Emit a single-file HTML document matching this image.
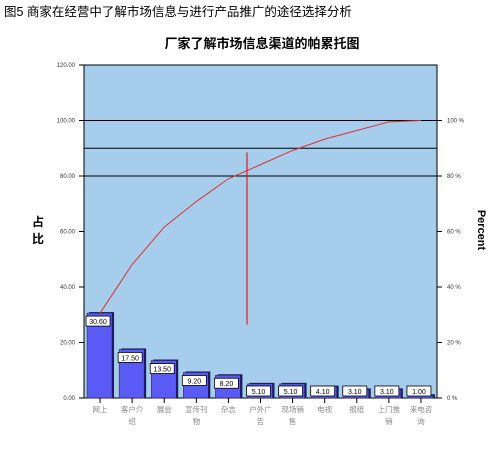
<!DOCTYPE html>
<html><head><meta charset="utf-8">
<style>
body{margin:0;background:#fff;width:499px;height:444px;overflow:hidden;font-family:"Liberation Sans","Noto Sans CJK SC",sans-serif}
</style></head>
<body>
<svg id="c" width="499" height="444" xmlns="http://www.w3.org/2000/svg">
<text x="4" y="16" font-size="12.5" fill="#000" font-family="Liberation Sans, Noto Sans CJK SC, sans-serif">图5  商家在经营中了解市场信息与进行产品推广的途径选择分析</text>
<text x="262" y="48" font-size="13" font-weight="bold" text-anchor="middle" font-family="Liberation Sans, Noto Sans CJK SC, sans-serif">厂家了解市场信息渠道的帕累托图</text>
<rect x="84" y="65" width="353" height="333" fill="#a6cdeb" stroke="#000" stroke-width="1"/>
<text x="36" y="225" font-size="12" font-weight="bold" font-family="Noto Sans CJK SC, sans-serif"><tspan x="32" y="226">占</tspan><tspan x="32" y="243">比</tspan></text>
<text transform="translate(478,230) rotate(90)" font-size="11" font-weight="bold" text-anchor="middle">Percent</text>
<g id="g"></g>
</svg>
<script>
const categories=["网上","客户介绍","展会","宣传刊物","杂志","户外广告","现场销售","电视","报纸","上门推销","来电咨询"];
const values=[30.6,17.5,13.5,9.2,8.2,5.1,5.1,4.1,3.1,3.1,1.0];
const valueLabels=["30.60","17.50","13.50","9.20","8.20","5.10","5.10","4.10","3.10","3.10","1.00"];
const leftTicks=[0,20,40,60,80,100,120];
const rightTicks=[0,20,40,60,80,100];
const ns="http://www.w3.org/2000/svg";
const g=document.getElementById('g');
const X0=84,W=353,Y0=398,H=333,YMAX=120;
const band=W/categories.length;
const y=v=>Y0-v/YMAX*H;
const xc=i=>X0+band*(i+0.5);
function mk(t,a,p){const e=document.createElementNS(ns,t);for(const k in a)e.setAttribute(k,a[k]);(p||g).appendChild(e);return e;}
// gridlines
[80,90,100].forEach(v=>{const l=mk('line',{x1:X0,x2:X0+W,y1:y(v),y2:y(v),stroke:'#000','stroke-width':1});

});
leftTicks.forEach(v=>{mk('line',{x1:X0-5,x2:X0,y1:y(v),y2:y(v),stroke:'#000'});
const t=mk('text',{x:X0-9,y:y(v)+2,'font-size':6,'text-anchor':'end',fill:'#333'});t.textContent=v.toFixed(2);

});
rightTicks.forEach(v=>{mk('line',{x1:X0+W,x2:X0+W+5,y1:y(v),y2:y(v),stroke:'#000'});
const t=mk('text',{x:X0+W+10,y:y(v)+2,'font-size':6,fill:'#333'});t.textContent=v+' %';

});
values.forEach((v,i)=>{
const bx=xc(i)-13,bw=25;
const sh=mk('rect',{x:bx+2,y:y(v)-1,width:bw,height:Y0-y(v)+1,fill:'#1a1a6a'});


const b=mk('rect',{x:bx,y:y(v),width:bw,height:Y0-y(v),fill:'#5a5af5',stroke:'#222','stroke-width':0.5});


mk('line',{x1:xc(i),x2:xc(i),y1:Y0,y2:Y0+5,stroke:'#000'});
const ly=Math.min(y(v)+3,Y0-12);
const lb=mk('rect',{x:bx-1,y:ly,width:24,height:10,fill:'#fff',stroke:'#000','stroke-width':0.8});


const lt=mk('text',{x:bx+11,y:ly+8,'font-size':7,'text-anchor':'middle'});lt.textContent=valueLabels[i];


const c=categories[i];const l1=c.length>2?c.slice(0,3):c,l2=c.length>3?c.slice(3):'';
const t1=mk('text',{x:xc(i),y:Y0+14,'font-size':7.5,'text-anchor':'middle',fill:'#888'});t1.textContent=l1;


if(l2){const t2=mk('text',{x:xc(i),y:Y0+26,'font-size':7.5,'text-anchor':'middle',fill:'#888'});t2.textContent=l2;

}
});
let cum=0,pts=[];values.forEach((v,i)=>{cum+=v;pts.push(xc(i)+','+y(Math.min(cum,100)));});
const pl=mk('polyline',{points:pts.join(' '),fill:'none',stroke:'#e03030','stroke-width':1});


const vl=mk('line',{x1:247,x2:247,y1:y(88.5),y2:y(26.5),stroke:'#e02020','stroke-width':1.2});


</script>
</body></html>
